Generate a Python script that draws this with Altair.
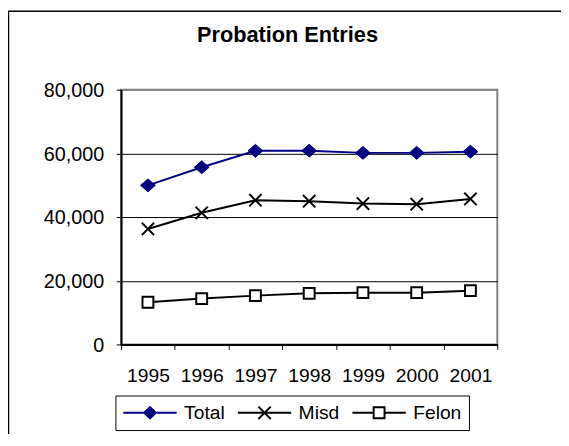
import altair as alt
import pandas as pd

# ---- data ----
years = ["1995", "1996", "1997", "1998", "1999", "2000", "2001"]
total = [49950, 55640, 60800, 60850, 60150, 60150, 60520]
misd = [36260, 41330, 45280, 44970, 44250, 44040, 45690]
felon = [13250, 14400, 15330, 16050, 16260, 16260, 16880]
series = ["Total", "Misd", "Felon"]
y_ticks = [0, 20000, 40000, 60000, 80000]

FONT = "Liberation Sans"
NAVY = "#000080"
series_colors = [NAVY, "#000000", "#000000"]

df = pd.DataFrame({
    "year": years * 3,
    "series": [s for s in series for _ in years],
    "value": total + misd + felon,
})

# ---- legend symbols: line + marker, in unit coordinates (-1..1) ----
U = 27.0  # half of the 54px legend sample line
hatch = []
for i in range(-6, 7):
    h = 6.5 * (1 - abs(i) / 7.0)
    hatch.append(f"M{i/U:.4f},{-h/U:.4f}V{h/U:.4f}")
total_sym = "M-1,0H1" + "".join(hatch)
xs = 6.25 / U
misd_sym = f"M-1,0H1M{-xs:.4f},{-xs:.4f}L{xs:.4f},{xs:.4f}M{-xs:.4f},{xs:.4f}L{xs:.4f},{-xs:.4f}"
sq = 5.5 / U
felon_sym = (f"M-1,0H{-sq:.4f}M{sq:.4f},0H1"
             f"M{-sq:.4f},{-sq:.4f}H{sq:.4f}V{sq:.4f}H{-sq:.4f}Z")
legend_paths = [total_sym, misd_sym, felon_sym]

x_enc = alt.X(
    "year:N", sort=years,
    scale=alt.Scale(type="band", paddingInner=0, paddingOuter=0),
    axis=alt.Axis(title=None, tickBand="extent", labelAngle=0, labelFont=FONT,
                  labelFontSize=19.5, labelColor="black", labelPadding=18,
                  tickSize=5, tickColor="black", tickWidth=1,
                  domainColor="black", domainWidth=2, grid=False),
)
y_enc = alt.Y(
    "value:Q",
    scale=alt.Scale(domain=[0, 80000], nice=False, zero=True),
    axis=alt.Axis(title=None, values=y_ticks, format=",d", labelFont=FONT,
                  labelFontSize=20, labelColor="black", labelPadding=12.5,
                  labelOffset=1, labelFlush=False, labelOverlap=False,
                  tickSize=5, tickColor="black", tickWidth=1,
                  domainColor="black", domainWidth=2, grid=True, gridWidth=1,
                  gridColor={"condition": {"test": "datum.value === 80000", "value": "#808080"},
                             "value": "#000000"}),
)

base = alt.Chart(df)

line_layers = [
    base.transform_filter(alt.datum.series == s).mark_line(strokeWidth=2, color=c).encode(x=x_enc, y=y_enc)
    for s, c in zip(series, series_colors)
]

marker_style = {
    "Total": dict(shape="M-1,0L0,-0.87L1,0L0,0.87Z", size=225, fill=NAVY, stroke=NAVY,
                  strokeWidth=1, filled=True, opacity=1),
    "Misd": dict(shape="M-1,-1L1,1M-1,1L1,-1", size=156, stroke="black",
                 strokeWidth=2, filled=False, opacity=1),
    "Felon": dict(shape="square", size=121, fill="white", stroke="black",
                  strokeWidth=2, filled=True, opacity=1),
}
point_layers = [
    base.transform_filter(alt.datum.series == s).mark_point(**marker_style[s]).encode(x=x_enc, y=y_enc)
    for s in series
]

leg = alt.Legend(
    orient="none", legendX=-5.7, legendY=309.7, direction="horizontal", title=None,
    labelFont=FONT, labelFontSize=19.5, labelColor="black", labelOffset=6.5,
    columnPadding=12, padding=7, strokeColor="black", fillColor="white",
    symbolSize=2916, symbolStrokeWidth=2, clipHeight=21,
)
legend_layer = base.transform_filter("datum.value < 0").mark_point(
    fill="white", strokeWidth=2, opacity=1, filled=False
).encode(
    x=x_enc, y=y_enc,
    shape=alt.Shape("series:N", scale=alt.Scale(domain=series, range=legend_paths), legend=leg),
    stroke=alt.Stroke("series:N", scale=alt.Scale(domain=series, range=series_colors), legend=leg),
)

frame = alt.Chart(pd.DataFrame({"k": [0]})).mark_rect(
    filled=False, stroke="black", strokeWidth=1.5
).encode(
    x=alt.value(-114), x2=alt.value(700), y=alt.value(-79.5), y2=alt.value(700)
)

chart = alt.layer(frame, *line_layers, *point_layers, legend_layer).properties(
    width=381, height=258,
    title=alt.TitleParams(text="Probation Entries", font=FONT, fontSize=22, fontWeight="bold",
                          color="black", anchor="middle", frame="group", dx=-22,
                          baseline="alphabetic", offset=0, dy=54),
    autosize=alt.AutoSizeParams(type="none"),
    padding={"left": 114.5, "top": 80, "right": 64.5, "bottom": 88},
    background="white",
).configure_view(stroke="#808080", strokeWidth=2)

chart.save("out.html", embed_options={"renderer": "svg", "actions": False})
